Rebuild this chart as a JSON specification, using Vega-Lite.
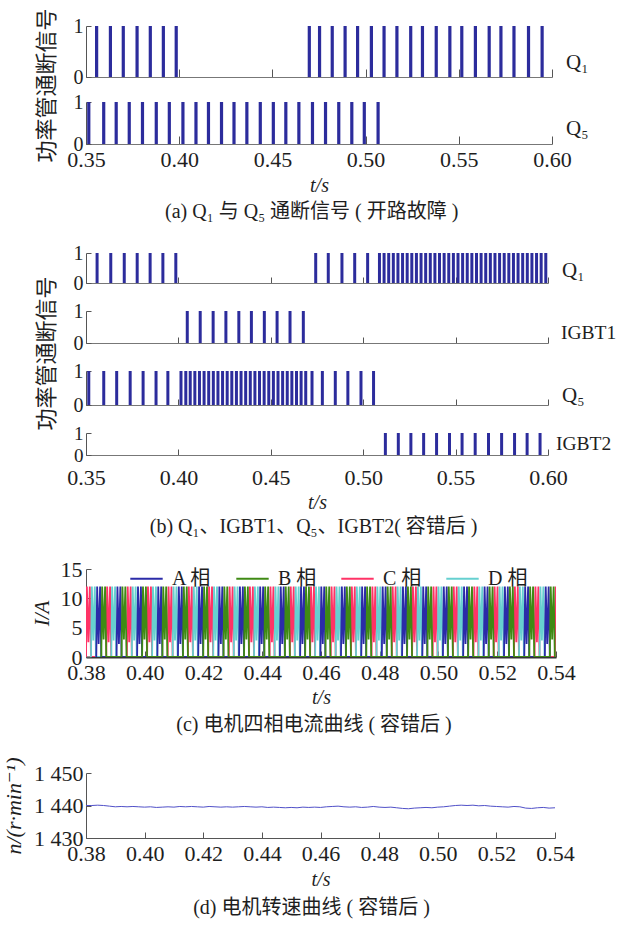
{
"$schema": "https://vega.github.io/schema/vega-lite/v6.json",
"background": "white",
"padding": {"left": 2, "top": 7, "right": 2, "bottom": 5},
"config": {
 "font": "Liberation Serif, DejaVu Serif, serif",
 "view": {"stroke": null},
 "axis": {"grid": false, "labelFlush": false, "labelOverlap": false, "labelFont": "Liberation Serif, DejaVu Serif, serif", "labelFontSize": 22, "labelColor": "#1e1e1e", "domainColor": "#555", "tickColor": "#555", "titleFont": "Liberation Serif, DejaVu Serif, serif", "titleFontWeight": "normal", "titleColor": "#1e1e1e", "zindex": 1},
 "title": {"font": "Liberation Serif, Noto Sans CJK SC, serif", "fontSize": 20, "fontWeight": "normal", "color": "#1e1e1e", "anchor": "middle"}
},
"datasets": {
 "pulses": [
  {"g":"a1","t":0.3557},{"g":"a1","t":0.3631},{"g":"a1","t":0.3700},{"g":"a1","t":0.3774},{"g":"a1","t":0.3845},{"g":"a1","t":0.3915},{"g":"a1","t":0.3984},
  {"g":"a1","t":0.4698},{"g":"a1","t":0.4753},{"g":"a1","t":0.4821},{"g":"a1","t":0.4890},{"g":"a1","t":0.4957},{"g":"a1","t":0.5031},{"g":"a1","t":0.5099},{"g":"a1","t":0.5168},{"g":"a1","t":0.5242},{"g":"a1","t":0.5305},{"g":"a1","t":0.5379},{"g":"a1","t":0.5452},{"g":"a1","t":0.5516},{"g":"a1","t":0.5589},{"g":"a1","t":0.5663},{"g":"a1","t":0.5726},{"g":"a1","t":0.5796},{"g":"a1","t":0.5874},{"g":"a1","t":0.5947},
  {"g":"a5","t":0.3515},{"g":"a5","t":0.3595},{"g":"a5","t":0.3662},{"g":"a5","t":0.3732},{"g":"a5","t":0.3803},{"g":"a5","t":0.3877},{"g":"a5","t":0.3947},{"g":"a5","t":0.4020},{"g":"a5","t":0.4090},{"g":"a5","t":0.4157},{"g":"a5","t":0.4227},{"g":"a5","t":0.4294},{"g":"a5","t":0.4363},{"g":"a5","t":0.4435},{"g":"a5","t":0.4505},{"g":"a5","t":0.4572},{"g":"a5","t":0.4642},{"g":"a5","t":0.4715},{"g":"a5","t":0.4785},{"g":"a5","t":0.4856},{"g":"a5","t":0.4926},{"g":"a5","t":0.4993},{"g":"a5","t":0.5067},
  {"g":"b1","t":0.3560},{"g":"b1","t":0.3634},{"g":"b1","t":0.3707},{"g":"b1","t":0.3777},{"g":"b1","t":0.3847},{"g":"b1","t":0.3916},{"g":"b1","t":0.3986},
  {"g":"b1","t":0.4743},{"g":"b1","t":0.4811},{"g":"b1","t":0.4885},{"g":"b1","t":0.4954},{"g":"b1","t":0.5024},
  {"g":"b1","t":0.5088},{"g":"b1","t":0.5113},{"g":"b1","t":0.5138},{"g":"b1","t":0.5163},{"g":"b1","t":0.5188},{"g":"b1","t":0.5213},{"g":"b1","t":0.5238},{"g":"b1","t":0.5263},{"g":"b1","t":0.5288},{"g":"b1","t":0.5313},{"g":"b1","t":0.5338},{"g":"b1","t":0.5363},{"g":"b1","t":0.5388},{"g":"b1","t":0.5413},{"g":"b1","t":0.5438},{"g":"b1","t":0.5463},{"g":"b1","t":0.5488},{"g":"b1","t":0.5513},{"g":"b1","t":0.5538},{"g":"b1","t":0.5563},{"g":"b1","t":0.5588},{"g":"b1","t":0.5613},{"g":"b1","t":0.5638},{"g":"b1","t":0.5663},{"g":"b1","t":0.5688},{"g":"b1","t":0.5713},{"g":"b1","t":0.5738},{"g":"b1","t":0.5763},{"g":"b1","t":0.5788},{"g":"b1","t":0.5813},{"g":"b1","t":0.5838},{"g":"b1","t":0.5863},{"g":"b1","t":0.5888},{"g":"b1","t":0.5913},{"g":"b1","t":0.5938},{"g":"b1","t":0.5963},{"g":"b1","t":0.5988},
  {"g":"i1","t":0.4048},{"g":"i1","t":0.4118},{"g":"i1","t":0.4188},{"g":"i1","t":0.4257},{"g":"i1","t":0.4327},{"g":"i1","t":0.4395},{"g":"i1","t":0.4465},{"g":"i1","t":0.4534},{"g":"i1","t":0.4604},{"g":"i1","t":0.4676},
  {"g":"b5","t":0.3515},{"g":"b5","t":0.3596},{"g":"b5","t":0.3666},{"g":"b5","t":0.3739},{"g":"b5","t":0.3809},{"g":"b5","t":0.3879},{"g":"b5","t":0.3943},
  {"g":"b5","t":0.4014},{"g":"b5","t":0.4040},{"g":"b5","t":0.4064},{"g":"b5","t":0.4089},{"g":"b5","t":0.4114},{"g":"b5","t":0.4139},{"g":"b5","t":0.4164},{"g":"b5","t":0.4189},{"g":"b5","t":0.4214},{"g":"b5","t":0.4239},{"g":"b5","t":0.4264},{"g":"b5","t":0.4289},{"g":"b5","t":0.4314},{"g":"b5","t":0.4339},{"g":"b5","t":0.4364},{"g":"b5","t":0.4389},{"g":"b5","t":0.4414},{"g":"b5","t":0.4439},{"g":"b5","t":0.4464},{"g":"b5","t":0.4489},{"g":"b5","t":0.4514},{"g":"b5","t":0.4539},{"g":"b5","t":0.4564},{"g":"b5","t":0.4589},{"g":"b5","t":0.4614},{"g":"b5","t":0.4639},{"g":"b5","t":0.4664},{"g":"b5","t":0.4689},{"g":"b5","t":0.4723},
  {"g":"b5","t":0.4779},{"g":"b5","t":0.4849},{"g":"b5","t":0.4917},{"g":"b5","t":0.4988},{"g":"b5","t":0.5056},
  {"g":"i2","t":0.5120},{"g":"i2","t":0.5190},{"g":"i2","t":0.5258},{"g":"i2","t":0.5327},{"g":"i2","t":0.5397},{"g":"i2","t":0.5467},{"g":"i2","t":0.5535},{"g":"i2","t":0.5606},{"g":"i2","t":0.5678},{"g":"i2","t":0.5749},{"g":"i2","t":0.5819},{"g":"i2","t":0.5887},{"g":"i2","t":0.5957}
 ],
 "cur": [
  {"p":"C","t":0.3800,"i":0},{"p":"C","t":0.3803,"i":12},{"p":"C","t":0.3808,"i":2.5},{"p":"C","t":0.3813,"i":12},{"p":"C","t":0.3817,"i":0},
  {"p":"C","t":0.3869,"i":0},{"p":"C","t":0.3872,"i":12},{"p":"C","t":0.3877,"i":2.5},{"p":"C","t":0.3882,"i":12},{"p":"C","t":0.3886,"i":0},
  {"p":"C","t":0.3939,"i":0},{"p":"C","t":0.3942,"i":12},{"p":"C","t":0.3947,"i":2.5},{"p":"C","t":0.3952,"i":12},{"p":"C","t":0.3956,"i":0},
  {"p":"C","t":0.4008,"i":0},{"p":"C","t":0.4011,"i":12},{"p":"C","t":0.4016,"i":2.5},{"p":"C","t":0.4021,"i":12},{"p":"C","t":0.4025,"i":0},
  {"p":"C","t":0.4078,"i":0},{"p":"C","t":0.4081,"i":12},{"p":"C","t":0.4086,"i":2.5},{"p":"C","t":0.4091,"i":12},{"p":"C","t":0.4095,"i":0},
  {"p":"C","t":0.4147,"i":0},{"p":"C","t":0.4150,"i":12},{"p":"C","t":0.4155,"i":2.5},{"p":"C","t":0.4160,"i":12},{"p":"C","t":0.4164,"i":0},
  {"p":"C","t":0.4216,"i":0},{"p":"C","t":0.4219,"i":12},{"p":"C","t":0.4224,"i":2.5},{"p":"C","t":0.4229,"i":12},{"p":"C","t":0.4233,"i":0},
  {"p":"C","t":0.4286,"i":0},{"p":"C","t":0.4289,"i":12},{"p":"C","t":0.4294,"i":2.5},{"p":"C","t":0.4299,"i":12},{"p":"C","t":0.4303,"i":0},
  {"p":"C","t":0.4355,"i":0},{"p":"C","t":0.4358,"i":12},{"p":"C","t":0.4363,"i":2.5},{"p":"C","t":0.4368,"i":12},{"p":"C","t":0.4372,"i":0},
  {"p":"C","t":0.4425,"i":0},{"p":"C","t":0.4428,"i":12},{"p":"C","t":0.4433,"i":2.5},{"p":"C","t":0.4438,"i":12},{"p":"C","t":0.4442,"i":0},
  {"p":"C","t":0.4494,"i":0},{"p":"C","t":0.4497,"i":12},{"p":"C","t":0.4502,"i":2.5},{"p":"C","t":0.4507,"i":12},{"p":"C","t":0.4511,"i":0},
  {"p":"C","t":0.4563,"i":0},{"p":"C","t":0.4566,"i":12},{"p":"C","t":0.4571,"i":2.5},{"p":"C","t":0.4576,"i":12},{"p":"C","t":0.4580,"i":0},
  {"p":"C","t":0.4633,"i":0},{"p":"C","t":0.4636,"i":12},{"p":"C","t":0.4641,"i":2.5},{"p":"C","t":0.4646,"i":12},{"p":"C","t":0.4650,"i":0},
  {"p":"C","t":0.4702,"i":0},{"p":"C","t":0.4705,"i":12},{"p":"C","t":0.4710,"i":2.5},{"p":"C","t":0.4715,"i":12},{"p":"C","t":0.4719,"i":0},
  {"p":"C","t":0.4772,"i":0},{"p":"C","t":0.4775,"i":12},{"p":"C","t":0.4780,"i":2.5},{"p":"C","t":0.4785,"i":12},{"p":"C","t":0.4789,"i":0},
  {"p":"C","t":0.4841,"i":0},{"p":"C","t":0.4844,"i":12},{"p":"C","t":0.4849,"i":2.5},{"p":"C","t":0.4854,"i":12},{"p":"C","t":0.4858,"i":0},
  {"p":"C","t":0.4910,"i":0},{"p":"C","t":0.4913,"i":12},{"p":"C","t":0.4918,"i":2.5},{"p":"C","t":0.4923,"i":12},{"p":"C","t":0.4927,"i":0},
  {"p":"C","t":0.4980,"i":0},{"p":"C","t":0.4983,"i":12},{"p":"C","t":0.4988,"i":2.5},{"p":"C","t":0.4993,"i":12},{"p":"C","t":0.4997,"i":0},
  {"p":"C","t":0.5049,"i":0},{"p":"C","t":0.5052,"i":12},{"p":"C","t":0.5057,"i":2.5},{"p":"C","t":0.5062,"i":12},{"p":"C","t":0.5066,"i":0},
  {"p":"C","t":0.5119,"i":0},{"p":"C","t":0.5122,"i":12},{"p":"C","t":0.5127,"i":2.5},{"p":"C","t":0.5132,"i":12},{"p":"C","t":0.5136,"i":0},
  {"p":"C","t":0.5188,"i":0},{"p":"C","t":0.5191,"i":12},{"p":"C","t":0.5196,"i":2.5},{"p":"C","t":0.5201,"i":12},{"p":"C","t":0.5205,"i":0},
  {"p":"C","t":0.5257,"i":0},{"p":"C","t":0.5260,"i":12},{"p":"C","t":0.5265,"i":2.5},{"p":"C","t":0.5270,"i":12},{"p":"C","t":0.5274,"i":0},
  {"p":"C","t":0.5327,"i":0},{"p":"C","t":0.5330,"i":12},{"p":"C","t":0.5335,"i":2.5},{"p":"C","t":0.5340,"i":12},{"p":"C","t":0.5344,"i":0},
  {"p":"C","t":0.5396,"i":0},{"p":"C","t":0.5399,"i":12},
  {"p":"D","t":0.3817,"i":0},{"p":"D","t":0.3820,"i":12},{"p":"D","t":0.3825,"i":2.8},{"p":"D","t":0.3830,"i":12},{"p":"D","t":0.3834,"i":0},
  {"p":"D","t":0.3886,"i":0},{"p":"D","t":0.3889,"i":12},{"p":"D","t":0.3894,"i":2.8},{"p":"D","t":0.3899,"i":12},{"p":"D","t":0.3903,"i":0},
  {"p":"D","t":0.3956,"i":0},{"p":"D","t":0.3959,"i":12},{"p":"D","t":0.3964,"i":2.8},{"p":"D","t":0.3969,"i":12},{"p":"D","t":0.3973,"i":0},
  {"p":"D","t":0.4025,"i":0},{"p":"D","t":0.4028,"i":12},{"p":"D","t":0.4033,"i":2.8},{"p":"D","t":0.4038,"i":12},{"p":"D","t":0.4042,"i":0},
  {"p":"D","t":0.4095,"i":0},{"p":"D","t":0.4098,"i":12},{"p":"D","t":0.4103,"i":2.8},{"p":"D","t":0.4108,"i":12},{"p":"D","t":0.4112,"i":0},
  {"p":"D","t":0.4164,"i":0},{"p":"D","t":0.4167,"i":12},{"p":"D","t":0.4172,"i":2.8},{"p":"D","t":0.4177,"i":12},{"p":"D","t":0.4181,"i":0},
  {"p":"D","t":0.4233,"i":0},{"p":"D","t":0.4236,"i":12},{"p":"D","t":0.4241,"i":2.8},{"p":"D","t":0.4246,"i":12},{"p":"D","t":0.4250,"i":0},
  {"p":"D","t":0.4303,"i":0},{"p":"D","t":0.4306,"i":12},{"p":"D","t":0.4311,"i":2.8},{"p":"D","t":0.4316,"i":12},{"p":"D","t":0.4320,"i":0},
  {"p":"D","t":0.4372,"i":0},{"p":"D","t":0.4375,"i":12},{"p":"D","t":0.4380,"i":2.8},{"p":"D","t":0.4385,"i":12},{"p":"D","t":0.4389,"i":0},
  {"p":"D","t":0.4442,"i":0},{"p":"D","t":0.4445,"i":12},{"p":"D","t":0.4450,"i":2.8},{"p":"D","t":0.4455,"i":12},{"p":"D","t":0.4459,"i":0},
  {"p":"D","t":0.4511,"i":0},{"p":"D","t":0.4514,"i":12},{"p":"D","t":0.4519,"i":2.8},{"p":"D","t":0.4524,"i":12},{"p":"D","t":0.4528,"i":0},
  {"p":"D","t":0.4580,"i":0},{"p":"D","t":0.4583,"i":12},{"p":"D","t":0.4588,"i":2.8},{"p":"D","t":0.4593,"i":12},{"p":"D","t":0.4597,"i":0},
  {"p":"D","t":0.4650,"i":0},{"p":"D","t":0.4653,"i":12},{"p":"D","t":0.4658,"i":2.8},{"p":"D","t":0.4663,"i":12},{"p":"D","t":0.4667,"i":0},
  {"p":"D","t":0.4719,"i":0},{"p":"D","t":0.4722,"i":12},{"p":"D","t":0.4727,"i":2.8},{"p":"D","t":0.4732,"i":12},{"p":"D","t":0.4736,"i":0},
  {"p":"D","t":0.4789,"i":0},{"p":"D","t":0.4792,"i":12},{"p":"D","t":0.4797,"i":2.8},{"p":"D","t":0.4802,"i":12},{"p":"D","t":0.4806,"i":0},
  {"p":"D","t":0.4858,"i":0},{"p":"D","t":0.4861,"i":12},{"p":"D","t":0.4866,"i":2.8},{"p":"D","t":0.4871,"i":12},{"p":"D","t":0.4875,"i":0},
  {"p":"D","t":0.4927,"i":0},{"p":"D","t":0.4930,"i":12},{"p":"D","t":0.4935,"i":2.8},{"p":"D","t":0.4940,"i":12},{"p":"D","t":0.4944,"i":0},
  {"p":"D","t":0.4997,"i":0},{"p":"D","t":0.5000,"i":12},{"p":"D","t":0.5005,"i":2.8},{"p":"D","t":0.5010,"i":12},{"p":"D","t":0.5014,"i":0},
  {"p":"D","t":0.5066,"i":0},{"p":"D","t":0.5069,"i":12},{"p":"D","t":0.5074,"i":2.8},{"p":"D","t":0.5079,"i":12},{"p":"D","t":0.5083,"i":0},
  {"p":"D","t":0.5136,"i":0},{"p":"D","t":0.5139,"i":12},{"p":"D","t":0.5144,"i":2.8},{"p":"D","t":0.5149,"i":12},{"p":"D","t":0.5153,"i":0},
  {"p":"D","t":0.5205,"i":0},{"p":"D","t":0.5208,"i":12},{"p":"D","t":0.5213,"i":2.8},{"p":"D","t":0.5218,"i":12},{"p":"D","t":0.5222,"i":0},
  {"p":"D","t":0.5274,"i":0},{"p":"D","t":0.5277,"i":12},{"p":"D","t":0.5282,"i":2.8},{"p":"D","t":0.5287,"i":12},{"p":"D","t":0.5291,"i":0},
  {"p":"D","t":0.5344,"i":0},{"p":"D","t":0.5347,"i":12},{"p":"D","t":0.5352,"i":2.8},{"p":"D","t":0.5357,"i":12},{"p":"D","t":0.5361,"i":0},
  {"p":"A","t":0.3835,"i":0},{"p":"A","t":0.3838,"i":12},{"p":"A","t":0.3843,"i":2.2},{"p":"A","t":0.3848,"i":12},{"p":"A","t":0.3852,"i":0},
  {"p":"A","t":0.3904,"i":0},{"p":"A","t":0.3907,"i":12},{"p":"A","t":0.3912,"i":2.2},{"p":"A","t":0.3917,"i":12},{"p":"A","t":0.3921,"i":0},
  {"p":"A","t":0.3974,"i":0},{"p":"A","t":0.3977,"i":12},{"p":"A","t":0.3982,"i":2.2},{"p":"A","t":0.3987,"i":12},{"p":"A","t":0.3991,"i":0},
  {"p":"A","t":0.4043,"i":0},{"p":"A","t":0.4046,"i":12},{"p":"A","t":0.4051,"i":2.2},{"p":"A","t":0.4056,"i":12},{"p":"A","t":0.4060,"i":0},
  {"p":"A","t":0.4113,"i":0},{"p":"A","t":0.4116,"i":12},{"p":"A","t":0.4121,"i":2.2},{"p":"A","t":0.4126,"i":12},{"p":"A","t":0.4130,"i":0},
  {"p":"A","t":0.4182,"i":0},{"p":"A","t":0.4185,"i":12},{"p":"A","t":0.4190,"i":2.2},{"p":"A","t":0.4195,"i":12},{"p":"A","t":0.4199,"i":0},
  {"p":"A","t":0.4251,"i":0},{"p":"A","t":0.4254,"i":12},{"p":"A","t":0.4259,"i":2.2},{"p":"A","t":0.4264,"i":12},{"p":"A","t":0.4268,"i":0},
  {"p":"A","t":0.4321,"i":0},{"p":"A","t":0.4324,"i":12},{"p":"A","t":0.4329,"i":2.2},{"p":"A","t":0.4334,"i":12},{"p":"A","t":0.4338,"i":0},
  {"p":"A","t":0.4390,"i":0},{"p":"A","t":0.4393,"i":12},{"p":"A","t":0.4398,"i":2.2},{"p":"A","t":0.4403,"i":12},{"p":"A","t":0.4407,"i":0},
  {"p":"A","t":0.4460,"i":0},{"p":"A","t":0.4463,"i":12},{"p":"A","t":0.4468,"i":2.2},{"p":"A","t":0.4473,"i":12},{"p":"A","t":0.4477,"i":0},
  {"p":"A","t":0.4529,"i":0},{"p":"A","t":0.4532,"i":12},{"p":"A","t":0.4537,"i":2.2},{"p":"A","t":0.4542,"i":12},{"p":"A","t":0.4546,"i":0},
  {"p":"A","t":0.4598,"i":0},{"p":"A","t":0.4601,"i":12},{"p":"A","t":0.4606,"i":2.2},{"p":"A","t":0.4611,"i":12},{"p":"A","t":0.4615,"i":0},
  {"p":"A","t":0.4668,"i":0},{"p":"A","t":0.4671,"i":12},{"p":"A","t":0.4676,"i":2.2},{"p":"A","t":0.4681,"i":12},{"p":"A","t":0.4685,"i":0},
  {"p":"A","t":0.4737,"i":0},{"p":"A","t":0.4740,"i":12},{"p":"A","t":0.4745,"i":2.2},{"p":"A","t":0.4750,"i":12},{"p":"A","t":0.4754,"i":0},
  {"p":"A","t":0.4807,"i":0},{"p":"A","t":0.4810,"i":12},{"p":"A","t":0.4815,"i":2.2},{"p":"A","t":0.4820,"i":12},{"p":"A","t":0.4824,"i":0},
  {"p":"A","t":0.4876,"i":0},{"p":"A","t":0.4879,"i":12},{"p":"A","t":0.4884,"i":2.2},{"p":"A","t":0.4889,"i":12},{"p":"A","t":0.4893,"i":0},
  {"p":"A","t":0.4945,"i":0},{"p":"A","t":0.4948,"i":12},{"p":"A","t":0.4953,"i":2.2},{"p":"A","t":0.4958,"i":12},{"p":"A","t":0.4962,"i":0},
  {"p":"A","t":0.5015,"i":0},{"p":"A","t":0.5018,"i":12},{"p":"A","t":0.5023,"i":2.2},{"p":"A","t":0.5028,"i":12},{"p":"A","t":0.5032,"i":0},
  {"p":"A","t":0.5084,"i":0},{"p":"A","t":0.5087,"i":12},{"p":"A","t":0.5092,"i":2.2},{"p":"A","t":0.5097,"i":12},{"p":"A","t":0.5101,"i":0},
  {"p":"A","t":0.5154,"i":0},{"p":"A","t":0.5157,"i":12},{"p":"A","t":0.5162,"i":2.2},{"p":"A","t":0.5167,"i":12},{"p":"A","t":0.5171,"i":0},
  {"p":"A","t":0.5223,"i":0},{"p":"A","t":0.5226,"i":12},{"p":"A","t":0.5231,"i":2.2},{"p":"A","t":0.5236,"i":12},{"p":"A","t":0.5240,"i":0},
  {"p":"A","t":0.5292,"i":0},{"p":"A","t":0.5295,"i":12},{"p":"A","t":0.5300,"i":2.2},{"p":"A","t":0.5305,"i":12},{"p":"A","t":0.5309,"i":0},
  {"p":"A","t":0.5362,"i":0},{"p":"A","t":0.5365,"i":12},{"p":"A","t":0.5370,"i":2.2},{"p":"A","t":0.5375,"i":12},{"p":"A","t":0.5379,"i":0},
  {"p":"B","t":0.3852,"i":0},{"p":"B","t":0.3855,"i":12},{"p":"B","t":0.3860,"i":3},{"p":"B","t":0.3865,"i":12},{"p":"B","t":0.3869,"i":0},
  {"p":"B","t":0.3921,"i":0},{"p":"B","t":0.3924,"i":12},{"p":"B","t":0.3929,"i":3},{"p":"B","t":0.3934,"i":12},{"p":"B","t":0.3938,"i":0},
  {"p":"B","t":0.3991,"i":0},{"p":"B","t":0.3994,"i":12},{"p":"B","t":0.3999,"i":3},{"p":"B","t":0.4004,"i":12},{"p":"B","t":0.4008,"i":0},
  {"p":"B","t":0.4060,"i":0},{"p":"B","t":0.4063,"i":12},{"p":"B","t":0.4068,"i":3},{"p":"B","t":0.4073,"i":12},{"p":"B","t":0.4077,"i":0},
  {"p":"B","t":0.4130,"i":0},{"p":"B","t":0.4133,"i":12},{"p":"B","t":0.4138,"i":3},{"p":"B","t":0.4143,"i":12},{"p":"B","t":0.4147,"i":0},
  {"p":"B","t":0.4199,"i":0},{"p":"B","t":0.4202,"i":12},{"p":"B","t":0.4207,"i":3},{"p":"B","t":0.4212,"i":12},{"p":"B","t":0.4216,"i":0},
  {"p":"B","t":0.4268,"i":0},{"p":"B","t":0.4271,"i":12},{"p":"B","t":0.4276,"i":3},{"p":"B","t":0.4281,"i":12},{"p":"B","t":0.4285,"i":0},
  {"p":"B","t":0.4338,"i":0},{"p":"B","t":0.4341,"i":12},{"p":"B","t":0.4346,"i":3},{"p":"B","t":0.4351,"i":12},{"p":"B","t":0.4355,"i":0},
  {"p":"B","t":0.4407,"i":0},{"p":"B","t":0.4410,"i":12},{"p":"B","t":0.4415,"i":3},{"p":"B","t":0.4420,"i":12},{"p":"B","t":0.4424,"i":0},
  {"p":"B","t":0.4477,"i":0},{"p":"B","t":0.4480,"i":12},{"p":"B","t":0.4485,"i":3},{"p":"B","t":0.4490,"i":12},{"p":"B","t":0.4494,"i":0},
  {"p":"B","t":0.4546,"i":0},{"p":"B","t":0.4549,"i":12},{"p":"B","t":0.4554,"i":3},{"p":"B","t":0.4559,"i":12},{"p":"B","t":0.4563,"i":0},
  {"p":"B","t":0.4615,"i":0},{"p":"B","t":0.4618,"i":12},{"p":"B","t":0.4623,"i":3},{"p":"B","t":0.4628,"i":12},{"p":"B","t":0.4632,"i":0},
  {"p":"B","t":0.4685,"i":0},{"p":"B","t":0.4688,"i":12},{"p":"B","t":0.4693,"i":3},{"p":"B","t":0.4698,"i":12},{"p":"B","t":0.4702,"i":0},
  {"p":"B","t":0.4754,"i":0},{"p":"B","t":0.4757,"i":12},{"p":"B","t":0.4762,"i":3},{"p":"B","t":0.4767,"i":12},{"p":"B","t":0.4771,"i":0},
  {"p":"B","t":0.4824,"i":0},{"p":"B","t":0.4827,"i":12},{"p":"B","t":0.4832,"i":3},{"p":"B","t":0.4837,"i":12},{"p":"B","t":0.4841,"i":0},
  {"p":"B","t":0.4893,"i":0},{"p":"B","t":0.4896,"i":12},{"p":"B","t":0.4901,"i":3},{"p":"B","t":0.4906,"i":12},{"p":"B","t":0.4910,"i":0},
  {"p":"B","t":0.4962,"i":0},{"p":"B","t":0.4965,"i":12},{"p":"B","t":0.4970,"i":3},{"p":"B","t":0.4975,"i":12},{"p":"B","t":0.4979,"i":0},
  {"p":"B","t":0.5032,"i":0},{"p":"B","t":0.5035,"i":12},{"p":"B","t":0.5040,"i":3},{"p":"B","t":0.5045,"i":12},{"p":"B","t":0.5049,"i":0},
  {"p":"B","t":0.5101,"i":0},{"p":"B","t":0.5104,"i":12},{"p":"B","t":0.5109,"i":3},{"p":"B","t":0.5114,"i":12},{"p":"B","t":0.5118,"i":0},
  {"p":"B","t":0.5171,"i":0},{"p":"B","t":0.5174,"i":12},{"p":"B","t":0.5179,"i":3},{"p":"B","t":0.5184,"i":12},{"p":"B","t":0.5188,"i":0},
  {"p":"B","t":0.5240,"i":0},{"p":"B","t":0.5243,"i":12},{"p":"B","t":0.5248,"i":3},{"p":"B","t":0.5253,"i":12},{"p":"B","t":0.5257,"i":0},
  {"p":"B","t":0.5309,"i":0},{"p":"B","t":0.5312,"i":12},{"p":"B","t":0.5317,"i":3},{"p":"B","t":0.5322,"i":12},{"p":"B","t":0.5326,"i":0},
  {"p":"B","t":0.5379,"i":0},{"p":"B","t":0.5382,"i":12},{"p":"B","t":0.5387,"i":3},{"p":"B","t":0.5392,"i":12},{"p":"B","t":0.5396,"i":0}
 ],
 "spd": [
  {"t":0.380,"n":1440.0},{"t":0.382,"n":1440.0},{"t":0.384,"n":1440.1},{"t":0.386,"n":1440.0},{"t":0.388,"n":1439.8},{"t":0.390,"n":1439.6},{"t":0.392,"n":1439.7},{"t":0.394,"n":1439.6},{"t":0.396,"n":1439.7},{"t":0.398,"n":1439.6},
  {"t":0.400,"n":1439.5},{"t":0.402,"n":1439.6},{"t":0.404,"n":1439.4},{"t":0.406,"n":1439.5},{"t":0.408,"n":1439.6},{"t":0.410,"n":1439.5},{"t":0.412,"n":1439.7},{"t":0.414,"n":1439.6},{"t":0.416,"n":1439.7},{"t":0.418,"n":1439.6},
  {"t":0.420,"n":1439.5},{"t":0.422,"n":1439.7},{"t":0.424,"n":1439.6},{"t":0.426,"n":1439.5},{"t":0.428,"n":1439.6},{"t":0.430,"n":1439.5},{"t":0.432,"n":1439.6},{"t":0.434,"n":1439.7},{"t":0.436,"n":1439.6},{"t":0.438,"n":1439.5},
  {"t":0.440,"n":1439.6},{"t":0.442,"n":1439.4},{"t":0.444,"n":1439.5},{"t":0.446,"n":1439.4},{"t":0.448,"n":1439.3},{"t":0.450,"n":1439.4},{"t":0.452,"n":1439.3},{"t":0.454,"n":1439.5},{"t":0.456,"n":1439.4},{"t":0.458,"n":1439.5},
  {"t":0.460,"n":1439.4},{"t":0.462,"n":1439.6},{"t":0.464,"n":1439.7},{"t":0.466,"n":1439.8},{"t":0.468,"n":1439.6},{"t":0.470,"n":1439.5},{"t":0.472,"n":1439.6},{"t":0.474,"n":1439.4},{"t":0.476,"n":1439.5},{"t":0.478,"n":1439.7},
  {"t":0.480,"n":1439.5},{"t":0.482,"n":1439.4},{"t":0.484,"n":1439.5},{"t":0.486,"n":1439.3},{"t":0.488,"n":1439.1},{"t":0.490,"n":1439.0},{"t":0.492,"n":1439.2},{"t":0.494,"n":1439.3},{"t":0.496,"n":1439.4},{"t":0.498,"n":1439.3},
  {"t":0.500,"n":1439.5},{"t":0.502,"n":1439.6},{"t":0.504,"n":1439.8},{"t":0.506,"n":1440.0},{"t":0.508,"n":1440.1},{"t":0.510,"n":1440.0},{"t":0.512,"n":1440.1},{"t":0.514,"n":1439.9},{"t":0.516,"n":1440.0},{"t":0.518,"n":1439.8},
  {"t":0.520,"n":1439.7},{"t":0.522,"n":1439.6},{"t":0.524,"n":1439.5},{"t":0.526,"n":1439.7},{"t":0.528,"n":1439.6},{"t":0.530,"n":1439.2},{"t":0.532,"n":1439.1},{"t":0.534,"n":1439.3},{"t":0.536,"n":1439.4},{"t":0.538,"n":1439.2},{"t":0.540,"n":1439.3}
 ]
},
"spacing": 21,
"vconcat": [
 {
  "title": {"text": "(a) Q₁ 与 Q₅ 通断信号 ( 开路故障 )", "orient": "bottom", "offset": 7},
  "spacing": 25,
  "bounds": "flush",
  "vconcat": [
   {
    "width": 466, "height": 51,
    "layer": [
     {
      "data": {"name": "pulses"},
      "transform": [{"filter": "datum.g === 'a1'"}],
      "mark": {"type": "rule", "strokeWidth": 3.2, "color": "#2c2c9c"},
      "encoding": {
       "x": {"field": "t", "type": "quantitative", "scale": {"domain": [0.35, 0.6], "nice": false, "zero": false},
             "axis": {"values": [0.35,0.4,0.45,0.5,0.55,0.6], "labels": false, "title": null, "tickSize": -8, "domainColor": "#777"}},
       "y": {"datum": 0, "type": "quantitative", "scale": {"domain": [0, 1], "nice": false},
             "axis": {"values": [0, 1], "format": "d", "tickSize": -5, "labelPadding": 8, "labelFontSize": 20, "title": "功率管通断信号", "titleFont": "Noto Sans CJK SC", "titleFontSize": 22, "titleX": -40, "titleY": 59, "titleAlign": "center", "titleBaseline": "middle", "titleAngle": 270}},
       "y2": {"datum": 1}
      }
     },
     {
      "data": {"values": [{"name": "Q₁"}]},
      "mark": {"type": "text", "align": "left", "baseline": "middle", "dx": 14, "fontSize": 21, "font": "Liberation Serif, DejaVu Serif, serif", "color": "#1e1e1e"},
      "encoding": {"x": {"datum": 0.6, "type": "quantitative"}, "y": {"datum": 0.27, "type": "quantitative"}, "text": {"field": "name"}}
     }
    ]
   },
   {
    "width": 466, "height": 42,
    "layer": [
     {
      "data": {"name": "pulses"},
      "transform": [{"filter": "datum.g === 'a5'"}],
      "mark": {"type": "rule", "strokeWidth": 3.2, "color": "#2c2c9c"},
      "encoding": {
       "x": {"field": "t", "type": "quantitative", "scale": {"domain": [0.35, 0.6], "nice": false, "zero": false},
             "axis": {"values": [0.35,0.4,0.45,0.5,0.55,0.6], "format": ".2f", "tickSize": -8, "labelPadding": 13, "domainColor": "#777", "title": "t/s", "titleFontStyle": "italic", "titleFontSize": 20, "titlePadding": 5}},
       "y": {"datum": 0, "type": "quantitative", "scale": {"domain": [0, 1], "nice": false},
             "axis": {"values": [0, 1], "format": "d", "tickSize": -5, "labelPadding": 8, "labelFontSize": 20, "title": null}},
       "y2": {"datum": 1}
      }
     },
     {
      "data": {"values": [{"name": "Q₅"}]},
      "mark": {"type": "text", "align": "left", "baseline": "middle", "dx": 14, "fontSize": 21, "font": "Liberation Serif, DejaVu Serif, serif", "color": "#1e1e1e"},
      "encoding": {"x": {"datum": 0.6, "type": "quantitative"}, "y": {"datum": 0.36, "type": "quantitative"}, "text": {"field": "name"}}
     }
    ]
   }
  ]
 },
 {
  "title": {"text": "(b) Q₁、IGBT1、Q₅、IGBT2( 容错后 )", "orient": "bottom", "offset": 5, "dx": -12},
  "spacing": 28,
  "bounds": "flush",
  "vconcat": [
   {
    "width": 462, "height": 30,
    "layer": [
     {
      "data": {"name": "pulses"},
      "transform": [{"filter": "datum.g === 'b1'"}],
      "mark": {"type": "rule", "strokeWidth": 3, "color": "#2c2c9c"},
      "encoding": {
       "x": {"field": "t", "type": "quantitative", "scale": {"domain": [0.35, 0.6], "nice": false, "zero": false},
             "axis": {"values": [0.35,0.4,0.45,0.5,0.55,0.6], "labels": false, "title": null, "tickSize": -6, "domainColor": "#777"}},
       "y": {"datum": 0, "type": "quantitative", "scale": {"domain": [0, 1], "nice": false},
             "axis": {"values": [0, 1], "format": "d", "tickSize": -5, "labelPadding": 8, "labelFontSize": 20, "title": "功率管通断信号", "titleFont": "Noto Sans CJK SC", "titleFontSize": 22, "titleX": -40, "titleY": 100, "titleAlign": "center", "titleBaseline": "middle", "titleAngle": 270}},
       "y2": {"datum": 1}
      }
     },
     {
      "data": {"values": [{"name": "Q₁"}]},
      "mark": {"type": "text", "align": "left", "baseline": "middle", "dx": 14, "fontSize": 21, "font": "Liberation Serif, DejaVu Serif, serif", "color": "#1e1e1e"},
      "encoding": {"x": {"datum": 0.6, "type": "quantitative"}, "y": {"datum": 0.4, "type": "quantitative"}, "text": {"field": "name"}}
     }
    ]
   },
   {
    "width": 462, "height": 32,
    "layer": [
     {
      "data": {"name": "pulses"},
      "transform": [{"filter": "datum.g === 'i1'"}],
      "mark": {"type": "rule", "strokeWidth": 3, "color": "#2c2c9c"},
      "encoding": {
       "x": {"field": "t", "type": "quantitative", "scale": {"domain": [0.35, 0.6], "nice": false, "zero": false},
             "axis": {"values": [0.35,0.4,0.45,0.5,0.55,0.6], "labels": false, "title": null, "tickSize": -6, "domainColor": "#777"}},
       "y": {"datum": 0, "type": "quantitative", "scale": {"domain": [0, 1], "nice": false},
             "axis": {"values": [0, 1], "format": "d", "tickSize": -5, "labelPadding": 8, "labelFontSize": 20, "title": null}},
       "y2": {"datum": 1}
      }
     },
     {
      "data": {"values": [{"name": "IGBT1"}]},
      "mark": {"type": "text", "align": "left", "baseline": "middle", "dx": 13, "fontSize": 19.5, "font": "Liberation Serif, DejaVu Serif, serif", "color": "#1e1e1e"},
      "encoding": {"x": {"datum": 0.6, "type": "quantitative"}, "y": {"datum": 0.31, "type": "quantitative"}, "text": {"field": "name"}}
     }
    ]
   },
   {
    "width": 462, "height": 34,
    "layer": [
     {
      "data": {"name": "pulses"},
      "transform": [{"filter": "datum.g === 'b5'"}],
      "mark": {"type": "rule", "strokeWidth": 3, "color": "#2c2c9c"},
      "encoding": {
       "x": {"field": "t", "type": "quantitative", "scale": {"domain": [0.35, 0.6], "nice": false, "zero": false},
             "axis": {"values": [0.35,0.4,0.45,0.5,0.55,0.6], "labels": false, "title": null, "tickSize": -6, "domainColor": "#777"}},
       "y": {"datum": 0, "type": "quantitative", "scale": {"domain": [0, 1], "nice": false},
             "axis": {"values": [0, 1], "format": "d", "tickSize": -5, "labelPadding": 8, "labelFontSize": 20, "title": null}},
       "y2": {"datum": 1}
      }
     },
     {
      "data": {"values": [{"name": "Q₅"}]},
      "mark": {"type": "text", "align": "left", "baseline": "middle", "dx": 14, "fontSize": 21, "font": "Liberation Serif, DejaVu Serif, serif", "color": "#1e1e1e"},
      "encoding": {"x": {"datum": 0.6, "type": "quantitative"}, "y": {"datum": 0.26, "type": "quantitative"}, "text": {"field": "name"}}
     }
    ]
   },
   {
    "width": 462, "height": 22,
    "layer": [
     {
      "data": {"name": "pulses"},
      "transform": [{"filter": "datum.g === 'i2'"}],
      "mark": {"type": "rule", "strokeWidth": 3, "color": "#2c2c9c"},
      "encoding": {
       "x": {"field": "t", "type": "quantitative", "scale": {"domain": [0.35, 0.6], "nice": false, "zero": false},
             "axis": {"values": [0.35,0.4,0.45,0.5,0.55,0.6], "format": ".2f", "tickSize": -6, "labelPadding": 18, "domainColor": "#777", "title": "t/s", "titleFontStyle": "italic", "titleFontSize": 20, "titlePadding": 4}},
       "y": {"datum": 0, "type": "quantitative", "scale": {"domain": [0, 1], "nice": false},
             "axis": {"values": [0, 1], "format": "d", "tickSize": -5, "labelPadding": 8, "labelFontSize": 19, "title": null}},
       "y2": {"datum": 1}
      }
     },
     {
      "data": {"values": [{"name": "IGBT2"}]},
      "mark": {"type": "text", "align": "left", "baseline": "middle", "dx": 8, "fontSize": 19.5, "font": "Liberation Serif, DejaVu Serif, serif", "color": "#1e1e1e"},
      "encoding": {"x": {"datum": 0.6, "type": "quantitative"}, "y": {"datum": 0.52, "type": "quantitative"}, "text": {"field": "name"}}
     }
    ]
   }
  ]
 },
 {
  "width": 470, "height": 88,
  "title": {"text": "(c) 电机四相电流曲线 ( 容错后 )", "orient": "bottom", "offset": 8, "frame": "group", "dx": -7},
  "data": {"name": "cur"},
  "mark": {"type": "line", "strokeWidth": 1.8, "clip": true},
  "encoding": {
   "x": {"field": "t", "type": "quantitative", "scale": {"domain": [0.38, 0.54], "nice": false, "zero": false},
         "axis": {"values": [0.38,0.40,0.42,0.44,0.46,0.48,0.50,0.52,0.54], "format": ".2f", "tickSize": -6, "labelPadding": 11, "domainWidth": 2, "domainColor": "#333", "title": "t/s", "titleFontStyle": "italic", "titleFontSize": 20, "titlePadding": 4}},
   "y": {"field": "i", "type": "quantitative", "scale": {"domain": [0, 15], "nice": false},
         "axis": {"values": [0, 5, 10, 15], "tickSize": -5, "labelPadding": 9, "title": "I/A", "titleFontStyle": "italic", "titleFontSize": 21, "titlePadding": 8}},
   "color": {"field": "p", "type": "nominal", "scale": {"domain": ["A", "B", "C", "D"], "range": ["#2b2ba8", "#3f8a14", "#ff3366", "#66d0d0"]},
             "legend": {"orient": "none", "legendX": 43, "legendY": 535, "direction": "horizontal", "title": null, "symbolType": "stroke", "symbolSize": 1050, "symbolStrokeWidth": 2, "labelFont": "Liberation Serif, Noto Sans CJK SC, serif", "labelFontSize": 20, "labelColor": "#1e1e1e", "labelExpr": "datum.label + ' 相'", "columnPadding": 20, "labelOffset": 8}}
  }
 },
 {
  "width": 469, "height": 65,
  "title": {"text": "(d) 电机转速曲线 ( 容错后 )", "orient": "bottom", "offset": 9, "frame": "group", "dx": -9},
  "data": {"name": "spd"},
  "mark": {"type": "line", "strokeWidth": 1, "color": "#5050c8"},
  "encoding": {
   "x": {"field": "t", "type": "quantitative", "scale": {"domain": [0.38, 0.54], "nice": false, "zero": false},
         "axis": {"values": [0.38,0.40,0.42,0.44,0.46,0.48,0.50,0.52,0.54], "format": ".2f", "tickSize": -6, "labelPadding": 11, "title": "t/s", "titleFontStyle": "italic", "titleFontSize": 20, "titlePadding": 5}},
   "y": {"field": "n", "type": "quantitative", "scale": {"domain": [1430, 1450], "nice": false, "zero": false},
         "axis": {"values": [1430, 1440, 1450], "labelExpr": "replace(format(datum.value, ',d'), ',', ' ')", "tickSize": -5, "labelPadding": 8, "title": "n/(r·min⁻¹)", "titleFontStyle": "italic", "titleFontSize": 22, "titlePadding": 8}}
  }
 }
]
}
